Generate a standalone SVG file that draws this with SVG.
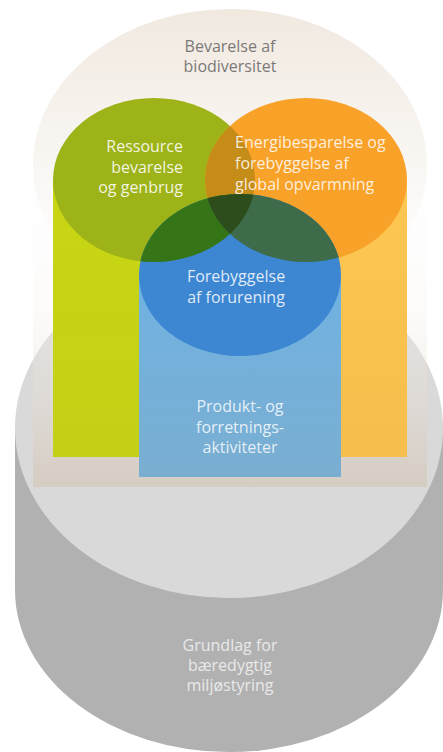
<svg xmlns="http://www.w3.org/2000/svg" width="443" height="752" viewBox="0 0 443 752">
<defs>
<style>
text{font-family:"Open Sans","Noto Sans","Liberation Sans",sans-serif;font-size:16px;}
.w{fill:#ffffff;}
</style>
<linearGradient id="beigeTop" gradientUnits="userSpaceOnUse" x1="0" y1="9" x2="0" y2="321">
<stop offset="0" stop-color="#f1e9e0"/>
<stop offset="0.55" stop-color="#faf8f5"/>
<stop offset="0.85" stop-color="#ffffff"/>
</linearGradient>
<linearGradient id="beigeBody" gradientUnits="userSpaceOnUse" x1="0" y1="165" x2="0" y2="487">
<stop offset="0" stop-color="#ffffff" stop-opacity="0.2"/>
<stop offset="0.45" stop-color="#f6f2ee" stop-opacity="0.3"/>
<stop offset="1" stop-color="#d3c4b4" stop-opacity="0.62"/>
</linearGradient>
<linearGradient id="greenBody" gradientUnits="userSpaceOnUse" x1="0" y1="180" x2="0" y2="457">
<stop offset="0" stop-color="#c8d614"/>
<stop offset="1" stop-color="#c4d016"/>
</linearGradient>
<linearGradient id="orangeBody" gradientUnits="userSpaceOnUse" x1="0" y1="180" x2="0" y2="457">
<stop offset="0" stop-color="#fdc752"/>
<stop offset="1" stop-color="#f6be4c"/>
</linearGradient>
<linearGradient id="blueBody" gradientUnits="userSpaceOnUse" x1="0" y1="275" x2="0" y2="477">
<stop offset="0" stop-color="#70b2e2"/>
<stop offset="1" stop-color="#7aaed1"/>
</linearGradient>
<clipPath id="clipG"><ellipse cx="154" cy="180" rx="101" ry="82"/></clipPath>
<clipPath id="clipO"><ellipse cx="306" cy="180" rx="101" ry="82"/></clipPath>
<clipPath id="clipB"><ellipse cx="240" cy="275" rx="101" ry="81"/></clipPath>
</defs>

<g id="grundlag">
<rect x="15" y="428" width="428" height="162" fill="#b1b1b1"/>
<ellipse cx="229" cy="590" rx="214" ry="162" fill="#b1b1b1"/>
<ellipse cx="229" cy="428" rx="214" ry="170" fill="#d9d9d9"/>
<text x="230" y="651" text-anchor="middle" fill="#e9e9e9">Grundlag for</text>
<text x="230" y="671" text-anchor="middle" fill="#e9e9e9">bæredygtig</text>
<text x="230" y="691" text-anchor="middle" fill="#e9e9e9">miljøstyring</text>
</g>

<g id="biodiversitet">
<rect x="33" y="165" width="394" height="322" fill="url(#beigeBody)"/>
<ellipse cx="230" cy="165" rx="197" ry="156" fill="url(#beigeTop)"/>
<text x="230" y="52" text-anchor="middle" fill="#7b7977">Bevarelse af</text>
<text x="230" y="72" text-anchor="middle" fill="#7b7977">biodiversitet</text>
</g>

<g id="ressource">
<rect x="53" y="180" width="202" height="277" fill="url(#greenBody)"/>
</g>
<g id="energi">
<rect x="205" y="180" width="202" height="277" fill="url(#orangeBody)"/>
</g>
<g id="produkt">
<rect x="139" y="275" width="202" height="202" fill="url(#blueBody)"/>
<text x="240" y="412" text-anchor="middle" class="w" fill-opacity="0.82">Produkt- og</text>
<text x="240" y="433" text-anchor="middle" class="w" fill-opacity="0.82">forretnings-</text>
<text x="240" y="453" text-anchor="middle" class="w" fill-opacity="0.82">aktiviteter</text>
</g>

<g id="ressource-top">
<ellipse cx="154" cy="180" rx="101" ry="82" fill="#9db318"/>
</g>
<g id="energi-top">
<ellipse cx="306" cy="180" rx="101" ry="82" fill="#f9a229"/>
</g>
<g id="forurening-top">
<ellipse cx="240" cy="275" rx="101" ry="81" fill="#3c86d2"/>
</g>
<g id="overlaps">
<g clip-path="url(#clipG)"><ellipse cx="306" cy="180" rx="101" ry="82" fill="#c68c18"/></g>
<g clip-path="url(#clipG)"><ellipse cx="240" cy="275" rx="101" ry="81" fill="#357518"/></g>
<g clip-path="url(#clipO)"><ellipse cx="240" cy="275" rx="101" ry="81" fill="#3e6c4b"/></g>
<g clip-path="url(#clipG)"><g clip-path="url(#clipO)"><ellipse cx="240" cy="275" rx="101" ry="81" fill="#2d4e1c"/></g></g>
</g>

<g id="labels">
<text x="183" y="152" text-anchor="end" class="w" fill-opacity="0.88">Ressource</text>
<text x="183" y="173" text-anchor="end" class="w" fill-opacity="0.88">bevarelse</text>
<text x="183" y="193" text-anchor="end" class="w" fill-opacity="0.88">og genbrug</text>
<text x="235" y="148" class="w" fill-opacity="0.85">Energibesparelse og</text>
<text x="235" y="169" class="w" fill-opacity="0.85">forebyggelse af</text>
<text x="235" y="190" class="w" fill-opacity="0.85">global opvarmning</text>
<text x="236" y="282" text-anchor="middle" class="w" fill-opacity="0.85">Forebyggelse</text>
<text x="236" y="303" text-anchor="middle" class="w" fill-opacity="0.85">af forurening</text>
</g>
</svg>
